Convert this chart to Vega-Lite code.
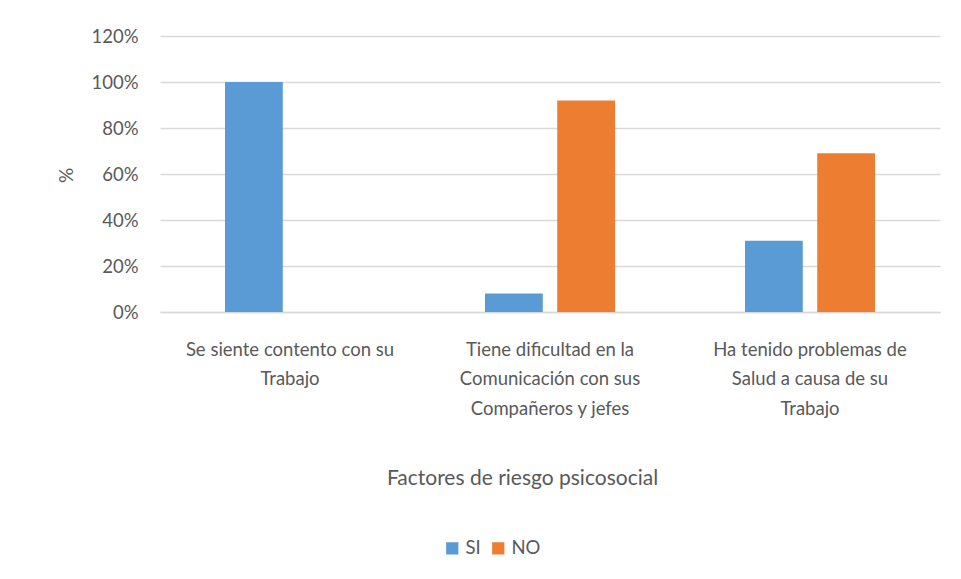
{
  "$schema": "https://vega.github.io/schema/vega-lite/v6.json",
  "width": 780,
  "height": 276,
  "autosize": {"type": "none"},
  "padding": {"left": 160, "top": 36, "right": 21, "bottom": 267},
  "background": "white",
  "data": {
    "values": [
      {"factor": "Se siente contento con su Trabajo", "respuesta": "SI", "valor": 1.0},
      {"factor": "Se siente contento con su Trabajo", "respuesta": "NO", "valor": 0.0},
      {"factor": "Tiene dificultad en la Comunicación con sus Compañeros y jefes", "respuesta": "SI", "valor": 0.08},
      {"factor": "Tiene dificultad en la Comunicación con sus Compañeros y jefes", "respuesta": "NO", "valor": 0.92},
      {"factor": "Ha tenido problemas de Salud a causa de su Trabajo", "respuesta": "SI", "valor": 0.31},
      {"factor": "Ha tenido problemas de Salud a causa de su Trabajo", "respuesta": "NO", "valor": 0.69}
    ]
  },
  "config": {
    "font": "Lato",
    "view": {"stroke": null},
    "axis": {
      "labelFont": "Lato",
      "titleFont": "Lato",
      "labelColor": "#595959",
      "titleColor": "#595959",
      "titleFontWeight": "normal"
    }
  },
  "mark": {"type": "bar"},
  "encoding": {
    "x": {
      "field": "factor",
      "type": "nominal",
      "sort": null,
      "scale": {"paddingInner": 0.5, "paddingOuter": 0.25},
      "axis": {
        "title": "Factores de riesgo psicosocial",
        "titleFontSize": 21,
        "titleX": 362,
        "titleY": 166,
        "titleBaseline": "middle",
        "labelAngle": 0,
        "labelFontSize": 18.5,
        "labelLineHeight": 29.5,
        "labelPadding": 28,
        "labelLimit": 300,
        "ticks": false,
        "domainColor": "#D9D9D9",
        "domainWidth": 1.5,
        "labelExpr": "datum.label == 'Se siente contento con su Trabajo' ? ['Se siente contento con su', 'Trabajo'] : datum.label == 'Ha tenido problemas de Salud a causa de su Trabajo' ? ['Ha tenido problemas de', 'Salud a causa de su', 'Trabajo'] : ['Tiene dificultad en la', 'Comunicación con sus', 'Compañeros y jefes']"
      }
    },
    "xOffset": {
      "field": "respuesta",
      "type": "nominal",
      "sort": ["SI", "NO"],
      "scale": {"paddingInner": 0.2, "paddingOuter": 0}
    },
    "y": {
      "field": "valor",
      "type": "quantitative",
      "scale": {"domain": [0, 1.2], "nice": false},
      "axis": {
        "title": "%",
        "titleFontSize": 19,
        "titleX": -94,
        "titleY": 139,
        "titleAngle": -90,
        "titleAlign": "center",
        "titleBaseline": "middle",
        "values": [0, 0.2, 0.4, 0.6, 0.8, 1.0, 1.2],
        "format": ".0%",
        "labelFontSize": 18.5,
        "labelPadding": 22,
        "ticks": false,
        "domain": false,
        "gridColor": "#D9D9D9",
        "gridWidth": 1.5
      }
    },
    "color": {
      "field": "respuesta",
      "type": "nominal",
      "scale": {"domain": ["SI", "NO"], "range": ["#5B9BD5", "#ED7D31"]},
      "legend": {
        "title": null,
        "orient": "none",
        "direction": "horizontal",
        "legendX": 283,
        "legendY": 503,
        "symbolType": "square",
        "symbolSize": 150,
        "symbolStrokeWidth": 0,
        "labelFontSize": 18.5,
        "labelColor": "#595959",
        "labelFont": "Lato",
        "columnPadding": 8,
        "labelOffset": 4
      }
    }
  }
}
